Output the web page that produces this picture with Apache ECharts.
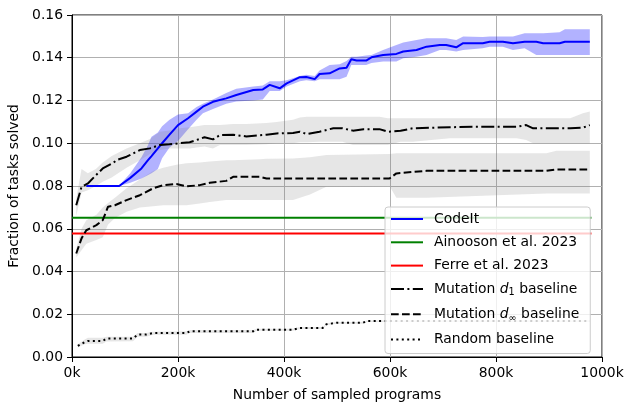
<!DOCTYPE html>
<html><head><meta charset="utf-8">
<script src="https://cdn.jsdelivr.net/npm/echarts@6/dist/echarts.min.js"></script>
<style>html,body{margin:0;padding:0;background:#fff}#c{width:624px;height:402px}</style>
</head><body><div id="c"></div>
<script>
// x values are in thousands of sampled programs
const codeitX    = [27, 89, 110, 131, 143, 150, 162, 170, 184, 200, 219, 235, 247, 266, 291, 310, 342, 360, 373, 392, 405, 430, 442, 458, 467, 486, 505, 518, 527, 537, 555, 565, 587, 612, 625, 650, 669, 694, 706, 725, 738, 775, 788, 813, 832, 854, 876, 889, 920, 930, 977];
const codeitMean = [0.0800, 0.0800, 0.0838, 0.0882, 0.0920, 0.0940, 0.0976, 0.1000, 0.1040, 0.1085, 0.1117, 0.1148, 0.1171, 0.1194, 0.1210, 0.1226, 0.1249, 0.1252, 0.1273, 0.1257, 0.1280, 0.1309, 0.1310, 0.1300, 0.1324, 0.1327, 0.1350, 0.1353, 0.1393, 0.1387, 0.1387, 0.1402, 0.1413, 0.1418, 0.1429, 0.1436, 0.1452, 0.1460, 0.1460, 0.1449, 0.1468, 0.1468, 0.1475, 0.1475, 0.1468, 0.1475, 0.1475, 0.1468, 0.1468, 0.1475, 0.1475];
const codeitLow  = [0.0800, 0.0800, 0.0815, 0.0835, 0.0850, 0.0860, 0.0880, 0.0930, 0.0980, 0.1010, 0.1065, 0.1110, 0.1140, 0.1160, 0.1185, 0.1195, 0.1200, 0.1205, 0.1245, 0.1245, 0.1265, 0.1290, 0.1295, 0.1290, 0.1300, 0.1300, 0.1300, 0.1311, 0.1366, 0.1366, 0.1366, 0.1375, 0.1382, 0.1382, 0.1398, 0.1405, 0.1413, 0.1436, 0.1436, 0.1429, 0.1436, 0.1444, 0.1452, 0.1452, 0.1436, 0.1444, 0.1413, 0.1413, 0.1413, 0.1413, 0.1413];
const codeitHigh = [0.0800, 0.0802, 0.0860, 0.0935, 0.0990, 0.1030, 0.1050, 0.1080, 0.1110, 0.1135, 0.1140, 0.1170, 0.1185, 0.1205, 0.1235, 0.1255, 0.1265, 0.1270, 0.1290, 0.1290, 0.1295, 0.1315, 0.1320, 0.1315, 0.1340, 0.1366, 0.1370, 0.1385, 0.1405, 0.1405, 0.1410, 0.1413, 0.1436, 0.1460, 0.1471, 0.1483, 0.1491, 0.1491, 0.1491, 0.1483, 0.1499, 0.1497, 0.1499, 0.1499, 0.1499, 0.1515, 0.1515, 0.1515, 0.1519, 0.1533, 0.1533];

const mutD1X    = [8, 18, 30, 45, 58, 75, 87, 103, 128, 147, 166, 184, 203, 222, 235, 250, 266, 279, 304, 329, 367, 386, 417, 430, 443, 467, 493, 510, 530, 550, 580, 596, 620, 643, 713, 757, 839, 857, 870, 940, 964, 977];
const mutD1Mean = [0.0710, 0.0796, 0.0812, 0.0850, 0.0882, 0.0905, 0.0924, 0.0937, 0.0968, 0.0976, 0.0992, 0.0995, 0.1000, 0.1005, 0.1015, 0.1028, 0.1018, 0.1038, 0.1040, 0.1032, 0.1040, 0.1046, 0.1048, 0.1054, 0.1043, 0.1054, 0.1070, 0.1070, 0.1059, 0.1066, 0.1066, 0.1054, 0.1058, 0.1070, 0.1075, 0.1077, 0.1077, 0.1085, 0.1070, 0.1070, 0.1073, 0.1085];
const mutD1Low  = [0.0660, 0.0770, 0.0780, 0.0800, 0.0820, 0.0840, 0.0860, 0.0885, 0.0920, 0.0950, 0.0968, 0.0976, 0.0976, 0.0976, 0.0980, 0.0985, 0.0976, 0.0992, 0.0992, 0.0992, 0.0995, 0.1000, 0.1000, 0.1005, 0.1005, 0.1007, 0.1007, 0.1007, 0.0992, 0.0992, 0.0992, 0.0992, 0.1007, 0.1007, 0.1023, 0.1023, 0.1023, 0.1015, 0.1000, 0.1000, 0.1000, 0.1000];
const mutD1High = [0.0740, 0.0880, 0.0860, 0.0880, 0.0910, 0.0940, 0.0955, 0.0975, 0.1000, 0.1020, 0.1054, 0.1060, 0.1070, 0.1075, 0.1080, 0.1085, 0.1085, 0.1085, 0.1090, 0.1090, 0.1095, 0.1100, 0.1110, 0.1120, 0.1124, 0.1124, 0.1124, 0.1124, 0.1124, 0.1124, 0.1124, 0.1117, 0.1117, 0.1117, 0.1117, 0.1117, 0.1117, 0.1117, 0.1117, 0.1117, 0.1140, 0.1148];

const mutDinfX    = [8, 18, 27, 46, 58, 68, 81, 103, 128, 153, 172, 197, 216, 241, 260, 291, 304, 354, 367, 417, 449, 480, 599, 612, 669, 895, 914, 977];
const mutDinfMean = [0.0484, 0.0555, 0.0593, 0.0617, 0.0640, 0.0703, 0.0710, 0.0734, 0.0757, 0.0789, 0.0804, 0.0809, 0.0798, 0.0804, 0.0815, 0.0824, 0.0843, 0.0843, 0.0835, 0.0835, 0.0835, 0.0835, 0.0835, 0.0859, 0.0871, 0.0871, 0.0877, 0.0877];
const mutDinfLow  = [0.0465, 0.0500, 0.0530, 0.0547, 0.0560, 0.0620, 0.0650, 0.0680, 0.0700, 0.0705, 0.0710, 0.0710, 0.0710, 0.0718, 0.0725, 0.0734, 0.0734, 0.0734, 0.0734, 0.0734, 0.0760, 0.0796, 0.0800, 0.0745, 0.0745, 0.0765, 0.0765, 0.0765];
const mutDinfHigh = [0.0505, 0.0600, 0.0640, 0.0665, 0.0700, 0.0720, 0.0745, 0.0790, 0.0830, 0.0870, 0.0885, 0.0900, 0.0906, 0.0910, 0.0915, 0.0921, 0.0921, 0.0925, 0.0927, 0.0929, 0.0935, 0.0945, 0.0950, 0.0953, 0.0953, 0.0953, 0.0965, 0.0965];

const randomX    = [11, 24, 30, 58, 65, 115, 124, 140, 153, 216, 222, 342, 348, 417, 430, 473, 480, 499, 549, 556, 977];
const randomMean = [0.0052, 0.0070, 0.0075, 0.0075, 0.0086, 0.0086, 0.0105, 0.0105, 0.0112, 0.0112, 0.0120, 0.0120, 0.0128, 0.0128, 0.0136, 0.0136, 0.0153, 0.0160, 0.0160, 0.0168, 0.0168];
const randomLow  = [0.0045, 0.0060, 0.0062, 0.0062, 0.0072, 0.0074, 0.0095, 0.0095, 0.0104, 0.0104, 0.0112, 0.0112, 0.0123, 0.0123, 0.0131, 0.0131, 0.0148, 0.0155, 0.0156, 0.0164, 0.0164];
const randomHigh = [0.0060, 0.0082, 0.0090, 0.0090, 0.0095, 0.0095, 0.0112, 0.0112, 0.0118, 0.0120, 0.0126, 0.0126, 0.0132, 0.0132, 0.0140, 0.0140, 0.0157, 0.0164, 0.0164, 0.0171, 0.0172];

const ainoosonX = [0, 980];
const ainoosonY = [0.0652, 0.0652];
const ferreX = [0, 980];
const ferreY = [0.0578, 0.0578];

const seriesNames = ['CodeIt', 'Ainooson et al. 2023', 'Ferre et al. 2023', 'Mutation d1 baseline', 'Mutation dinf baseline', 'Random baseline'];
const legendLabels = ['{n|CodeIt}', '{n|Ainooson et al. 2023}', '{n|Ferre et al. 2023}', '{n|Mutation }{i|d}{s|1}{n| baseline}', '{n|Mutation }{i|d}{s|\u221e}{n| baseline}', '{n|Random baseline}'];
const xTickValues = [0, 200, 400, 600, 800, 1000];
const xTickLabels = ['0k', '200k', '400k', '600k', '800k', '1000k'];
const yTickValues = [0, 0.02, 0.04, 0.06, 0.08, 0.10, 0.12, 0.14, 0.16];
const yTickLabels = ['0.00', '0.02', '0.04', '0.06', '0.08', '0.10', '0.12', '0.14', '0.16'];

const FONT = 'DejaVu Sans';
const FS = 13.9;
const DASHDOT = [13, 3.4, 2, 3.4];
const DASHED = [7.7, 3.3];
const DOTTED = [2, 3.4];
const seriesColors = ['#0000ff', '#008000', '#ff0000', '#000000', '#000000', '#000000'];
const seriesDash = ['solid', 'solid', 'solid', DASHDOT, DASHED, DOTTED];

function bandSeries(xs, lo, hi, color) {
  return {
    type: 'custom', silent: true, z: 1,
    data: xs.map((x, i) => [x, lo[i], hi[i]]),
    encode: { x: 0, y: [1, 2] },
    renderItem: function (params, api) {
      if (params.dataIndex !== 0) return null;
      const top = xs.map((x, i) => api.coord([x, hi[i]]));
      const bot = xs.map((x, i) => api.coord([x, lo[i]])).reverse();
      return { type: 'polygon', shape: { points: top.concat(bot) }, style: { fill: color } };
    }
  };
}
function lineSeries(k, xs, ys) {
  return {
    name: seriesNames[k], type: 'line', z: 3, symbol: 'none', showSymbol: false,
    data: xs.map((x, i) => [x, ys[i]]),
    lineStyle: { color: seriesColors[k], width: 2, type: seriesDash[k], cap: 'butt' },
    itemStyle: { color: seriesColors[k] },
    emphasis: { disabled: true }
  };
}

const chart = echarts.init(document.getElementById('c'), null, { renderer: 'canvas' });
const GREY = 'rgba(128,128,128,0.2)';
chart.setOption({
  animation: false,
  backgroundColor: '#fff',
  textStyle: { fontFamily: FONT },
  grid: { left: 72, right: 22, top: 15, bottom: 45, outerBoundsMode: 'none', containLabel: false,
    show: true, borderColor: '#000', borderWidth: 1, backgroundColor: 'transparent' },
  xAxis: {
    type: 'value', min: 0, max: 1000, interval: 200,
    name: 'Number of sampled programs', nameLocation: 'middle', nameGap: 31,
    nameTextStyle: { fontFamily: FONT, fontSize: FS, color: '#000' },
    axisLine: { show: true, lineStyle: { color: '#000', width: 1 } },
    axisTick: { show: true, length: 5, inside: false, lineStyle: { color: '#000', width: 1 } },
    axisLabel: { fontFamily: FONT, fontSize: FS, color: '#000', margin: 9, showMinLabel: true, showMaxLabel: true,
      formatter: v => xTickLabels[xTickValues.indexOf(Math.round(v))] },
    splitLine: { show: true, lineStyle: { color: '#b0b0b0', width: 1 } }
  },
  yAxis: {
    type: 'value', min: 0, max: 0.16, interval: 0.02,
    name: 'Fraction of tasks solved', nameLocation: 'middle', nameGap: 47,
    nameTextStyle: { fontFamily: FONT, fontSize: FS, color: '#000' },
    axisLine: { show: true, lineStyle: { color: '#000', width: 1 } },
    axisTick: { show: true, length: 5, inside: false, lineStyle: { color: '#000', width: 1 } },
    axisLabel: { fontFamily: FONT, fontSize: FS, color: '#000', margin: 9, showMinLabel: true, showMaxLabel: true,
      formatter: v => { const k = yTickValues.findIndex(t => Math.abs(t - v) < 1e-6); return k >= 0 ? yTickLabels[k] : ''; } },
    splitLine: { show: true, lineStyle: { color: '#b0b0b0', width: 1 } }
  },
  legend: {
    orient: 'vertical', left: 385, top: 207,
    data: seriesNames.map((n, k) => ({
      name: n,
      itemStyle: { opacity: 0, color: 'rgba(0,0,0,0)', borderWidth: 0 },
      lineStyle: { color: seriesColors[k], width: 2, type: seriesDash[k], opacity: 1 }
    })),
    itemWidth: 32, itemHeight: 14, itemGap: 9.3,
    padding: [5, 11, 7, 5],
    backgroundColor: 'rgba(255,255,255,0.8)', borderColor: '#cccccc', borderWidth: 1, borderRadius: 3,
    selectedMode: false,
    textStyle: {
      fontFamily: FONT, fontSize: FS, color: '#000', lineHeight: 14, padding: [0, 0, 0, 6],
      rich: {
        n: { fontFamily: FONT, fontSize: FS, lineHeight: 14, height: 14 },
        i: { fontFamily: FONT, fontSize: FS, fontStyle: 'italic', lineHeight: 14, height: 14 },
        s: { fontFamily: FONT, fontSize: 9.7, lineHeight: 14, height: 6, padding: [8, 0, 0, 0] }
      }
    },
    formatter: name => legendLabels[seriesNames.indexOf(name)]
  },
  series: [
    bandSeries(codeitX, codeitLow, codeitHigh, 'rgba(0,0,255,0.3)'),
    bandSeries(mutD1X, mutD1Low, mutD1High, GREY),
    bandSeries(mutDinfX, mutDinfLow, mutDinfHigh, GREY),
    bandSeries(randomX, randomLow, randomHigh, GREY),
    lineSeries(0, codeitX, codeitMean),
    lineSeries(1, ainoosonX, ainoosonY),
    lineSeries(2, ferreX, ferreY),
    lineSeries(3, mutD1X, mutD1Mean),
    lineSeries(4, mutDinfX, mutDinfMean),
    lineSeries(5, randomX, randomMean)
  ]
});
</script>
</body></html>
